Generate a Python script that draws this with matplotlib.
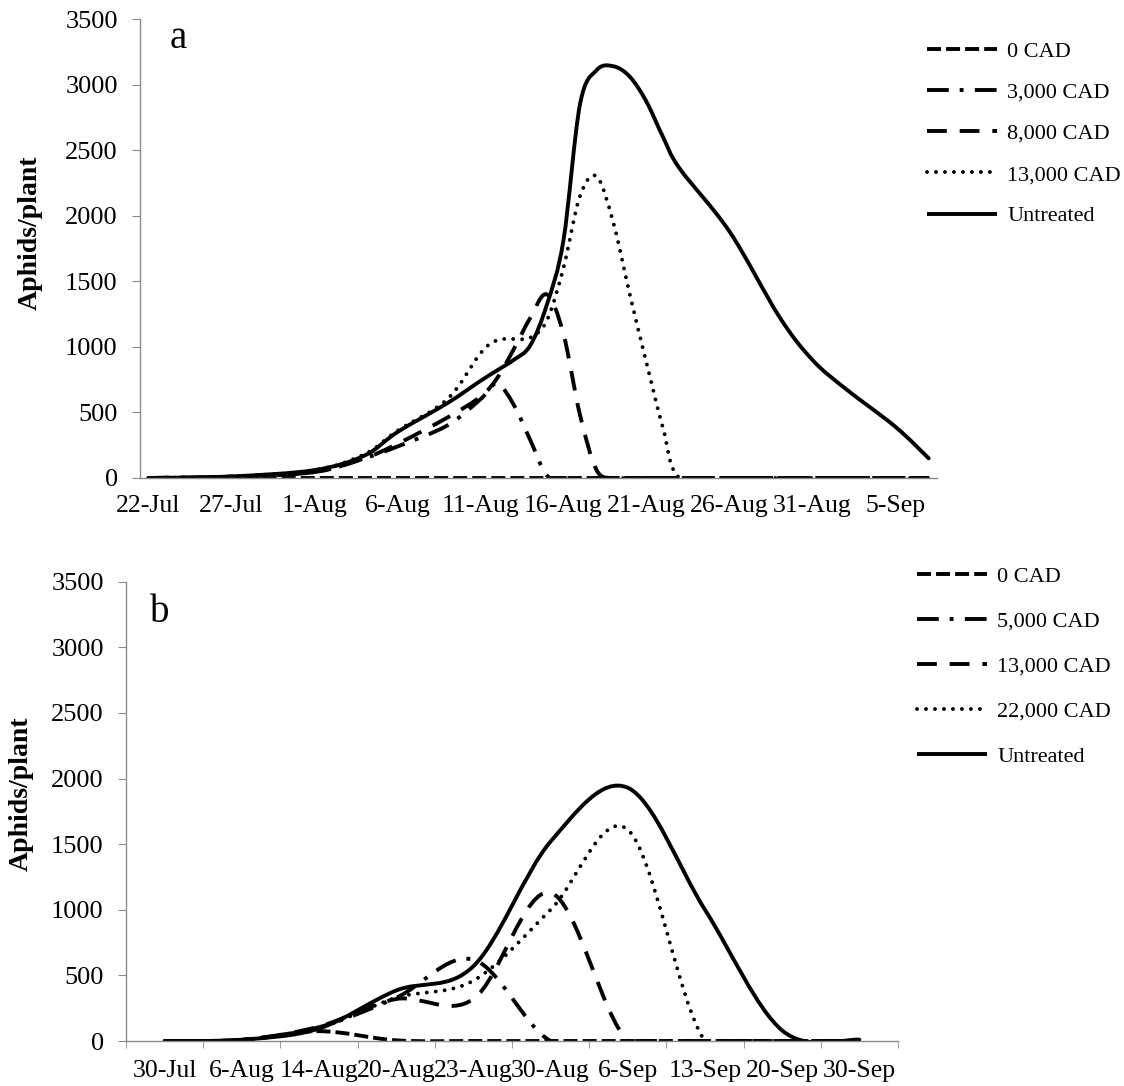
import numpy as np
import matplotlib
matplotlib.use('Agg')
import matplotlib.pyplot as plt
from matplotlib.path import Path
from matplotlib.patches import PathPatch
from matplotlib.lines import Line2D

plt.rcParams['font.family'] = ['Liberation Serif', 'DejaVu Serif']

# ---- panel a : sampling days, counted from 22-Jul ----
days_a = [0, 5, 10, 13, 15, 18, 20, 21, 22, 23, 24, 25, 26, 27, 28, 29, 30, 31, 32, 35, 38, 40, 42, 45, 47]
ticks_a = ['22-Jul', '27-Jul', '1-Aug', '6-Aug', '11-Aug', '16-Aug', '21-Aug', '26-Aug', '31-Aug', '5-Sep']
a_0 = [0, 0, 0, 0, 0, 0, 0, 0, 0, 0, 0, 0, 0, 0, 0, 0, 0, 0, 0, 0, 0, 0, 0, 0, 0]
a_3000 = [0, 10, 45, 150, 240, 400, 600, 720, 560, 290, 20, 0, 0, 0, 0, 0, 0, 0, 0, 0, 0, 0, 0, 0, 0]
a_8000 = [0, 10, 45, 150, 260, 460, 620, 760, 980, 1220, 1400, 1100, 480, 60, 0, 0, 0, 0, 0, 0, 0, 0, 0, 0, 0]
a_13000 = [0, 12, 60, 180, 360, 600, 950, 1050, 1060, 1070, 1200, 1600, 2150, 2300, 1950, 1400, 880, 380, 0, 0, 0, 0, 0, 0, 0]
a_untr = [0, 12, 60, 170, 350, 570, 740, 820, 900, 1010, 1320, 1810, 2850, 3110, 3140, 3060, 2870, 2600, 2360, 1880, 1230, 900, 680, 390, 150]

# ---- panel b : sampling dates as categories ----
cats_b = ['30-Jul', '6-Aug', '14-Aug', '20-Aug', '23-Aug', '30-Aug', '6-Sep', '13-Sep', '20-Sep', '30-Sep']
b_0 = [0, 8, 75, 5, 0, 0, 0, 0, 0, 0]
b_5000 = [0, 8, 105, 330, 620, 0, 0, 0, 0, 0]
b_13000 = [0, 8, 110, 320, 320, 1130, 0, 0, 0, 0]
b_22000 = [0, 8, 100, 330, 460, 1000, 1610, 0, 0, 0]
b_untr = [0, 10, 95, 385, 570, 1520, 1930, 1000, 80, 10]

labels_a = ['0 CAD', '3,000 CAD', '8,000 CAD', '13,000 CAD', 'Untreated']
labels_b = ['0 CAD', '5,000 CAD', '13,000 CAD', '22,000 CAD', 'Untreated']

LW = 2.8
styles = [
    dict(ls=(0, (3.6, 1.3)), cap='butt'),
    dict(ls=(0, (5.6, 2.8, 1.0, 2.9)), cap='butt'),
    dict(ls=(0, (5.1, 3.3)), cap='butt'),
    dict(ls=(0, (0.01, 2.3)), cap='round'),
    dict(ls='solid', cap='round'),
]


def smooth_path(x, y):
    # excel style smoothed line: cubic bezier through every point
    x = np.asarray(x, float)
    y = np.asarray(y, float)
    n = len(x)
    verts = [(x[0], y[0])]
    codes = [Path.MOVETO]
    for i in range(n - 1):
        p0 = i - 1 if i > 0 else i
        p3 = i + 2 if i + 2 < n else i + 1
        c1 = (x[i] + (x[i + 1] - x[p0]) / 6, y[i] + (y[i + 1] - y[p0]) / 6)
        c2 = (x[i + 1] - (x[p3] - x[i]) / 6, y[i + 1] - (y[p3] - y[i]) / 6)
        verts += [c1, c2, (x[i + 1], y[i + 1])]
        codes += [Path.CURVE4] * 3
    return Path(verts, codes)


def draw(ax, x, series):
    for y, st in zip(series, styles):
        p = PathPatch(smooth_path(x, y), fill=False, edgecolor='black', lw=LW,
                      linestyle=st['ls'], capstyle=st['cap'], joinstyle='round')
        ax.add_patch(p)


def style_axes(ax):
    for s in ['top', 'right']:
        ax.spines[s].set_visible(False)
    for s in ['left', 'bottom']:
        ax.spines[s].set_color('#8a8a8a')
        ax.spines[s].set_linewidth(1.0)
    ax.set_ylim(0, 3500)
    ax.set_yticks(np.arange(0, 3501, 500))
    ax.tick_params(axis='y', direction='out', length=6, color='#8a8a8a', pad=10, labelsize=19)
    ax.set_ylabel('Aphids/plant', fontsize=20, fontweight='bold')


def add_legend(fig, labels, x0, y0, spacing):
    handles = [Line2D([], [], color='black', lw=LW, linestyle=st['ls'],
                      dash_capstyle=st['cap'], solid_capstyle='butt') for st in styles]
    fig.legend(handles, labels, loc='upper left', bbox_to_anchor=(x0, y0),
               frameon=False, fontsize=16, handlelength=3.15, handletextpad=0.45,
               labelspacing=spacing, borderpad=0, borderaxespad=0)


fig = plt.figure(figsize=(11.24, 10.86), dpi=100)

# panel a
ax1 = fig.add_axes([140 / 1124, 1 - 478 / 1086, 797 / 1124, 459 / 1086])
draw(ax1, days_a, [a_0, a_3000, a_8000, a_13000, a_untr])
ax1.set_xlim(-0.5, 47.5)
ax1.set_xticks(np.arange(0, 46, 5))
ax1.set_xticklabels(ticks_a)
ax1.tick_params(axis='x', length=0, pad=12, labelsize=18.5)
style_axes(ax1)
ax1.yaxis.set_label_coords(-0.122, 0.534)
fig.text(178 / 1124, 1 - 38 / 1086, 'a', fontsize=28, ha='center', va='center')
add_legend(fig, labels_a, 927 / 1124, 1 - 41 / 1086, 0.93)

# panel b
ax2 = fig.add_axes([126 / 1124, 1 - 1041 / 1086, 772 / 1124, 459.3 / 1086])
xb = np.arange(len(cats_b))
draw(ax2, xb, [b_0, b_5000, b_13000, b_22000, b_untr])
ax2.set_xlim(-0.5, len(cats_b) - 0.5)
ax2.set_xticks(xb)
ax2.set_xticklabels(cats_b)
ax2.set_xticks(np.arange(-0.5, len(cats_b)), minor=True)
ax2.tick_params(axis='x', which='major', length=0, pad=14, labelsize=18.5)
ax2.tick_params(axis='x', which='minor', direction='out', length=5, color='#8a8a8a')
style_axes(ax2)
ax2.yaxis.set_label_coords(-0.12, 0.538)
fig.text(160 / 1124, 1 - 613 / 1086, 'b', fontsize=28, ha='center', va='center')
add_legend(fig, labels_b, 917 / 1124, 1 - 566 / 1086, 1.1)

fig.savefig('out.png', dpi=100)
